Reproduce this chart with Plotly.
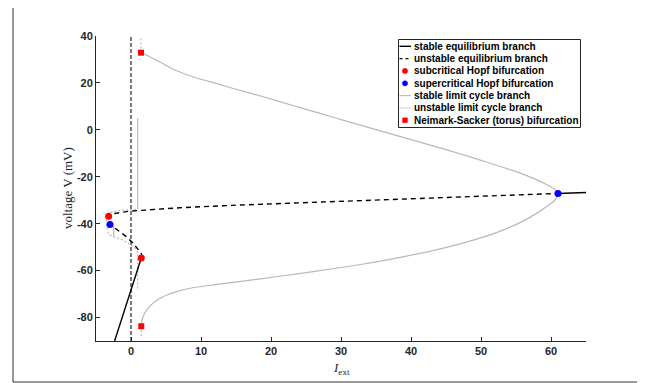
import plotly.graph_objects as go

# ---------------- data (I_ext, V) ----------------
# stable equilibrium branch (two pieces)
stab_eq_low_I = [-2.34, -1.0, 0.0, 0.51, 1.0, 1.47]
stab_eq_low_V = [-90.0, -77.5, -68.5, -64.1, -59.2, -54.6]
stab_eq_high_I = [61.0, 63.0, 65.0]
stab_eq_high_V = [-27.1, -26.9, -26.7]

# unstable equilibrium branch
unst_eq_I = [1.47, 1.5, 1.1, 0.14, -0.81, -2.0, -3.0, -3.4, -3.2, -2.24, -0.34, 2.04, 4.9, 7.0, 15.0, 25.0, 35.0, 45.0, 55.0, 61.0]
unst_eq_V = [-54.6, -53.0, -51.3, -47.8, -45.2, -42.5, -40.3, -38.5, -36.8, -35.6, -34.7, -34.2, -33.5, -33.2, -32.1, -31.0, -29.9, -28.8, -27.8, -27.1]

# Hopf points
sub_hopf_I = [-3.2, 1.47]
sub_hopf_V = [-36.8, -54.6]
sup_hopf_I = [-3.0, 61.0]
sup_hopf_V = [-40.3, -27.1]

# stable limit cycle branch: large loop (max V then min V)
lc_big_I = [1.43, 2.5, 3.7, 4.9, 6.2, 7.6, 9.5, 12.0, 15.0, 19.0, 23.0, 27.0, 31.0, 35.0, 39.0, 43.0,
            47.0, 51.0, 54.5, 57.5, 59.5, 60.6, 61.0,
            60.7, 59.5, 57.0, 53.5, 49.5, 44.5, 39.0, 33.0, 27.0, 21.0, 16.0, 12.0, 9.0, 7.0, 5.3, 4.0, 3.0, 2.3, 1.8, 1.55, 1.47]
lc_big_V = [33.0, 31.5, 29.6, 27.6, 25.6, 23.9, 22.0, 19.9, 17.3, 14.0, 10.5, 7.0, 3.5, 0.1, -3.3, -6.7,
            -10.2, -13.9, -17.3, -20.7, -23.5, -25.5, -27.1,
            -29.4, -32.5, -37.3, -42.3, -46.5, -50.5, -54.0, -57.3, -60.0, -62.5, -64.5, -66.0, -67.2, -68.5, -70.2, -72.1, -74.3, -76.6, -79.0, -81.5, -83.7]
# stable limit cycle: small family near the left knee
lc_small_I = [-3.0, -2.5, -2.5]
lc_small_V = [-40.3, -41.4, -45.6]
lc_top_I = [0.95, 0.95]
lc_top_V = [-33.8, 4.9]

# unstable limit cycle branch
ulc_max_I = [-3.2, -2.8, -1.5, 0.0, 0.95]
ulc_max_V = [-36.8, -35.0, -34.3, -34.0, -33.8]
ulc_min_I = [-3.2, -3.5, -3.4, -3.2, -2.6, -1.5, -0.3, 0.6, 0.95, 0.95]
ulc_min_V = [-36.8, -39.0, -42.0, -44.5, -45.5, -46.5, -48.5, -50.5, -52.0, -68.0]
ulc_ns_up_I = [1.43, 1.43]
ulc_ns_up_V = [33.0, 39.0]
ulc_ns_dn_I = [1.47, 1.47]
ulc_ns_dn_V = [-83.7, -88.0]

# Neimark-Sacker (torus) points
ns_I = [1.43, 1.47]
ns_V = [32.9, -83.7]

# axes
x_ticks = [0, 10, 20, 30, 40, 50, 60]
x_tick_labels = ["0", "10", "20", "30", "40", "50", "60"]
y_ticks = [-80, -60, -40, -20, 0, 20, 40]
y_tick_labels = ["-80", "-60", "-40", "-20", "0", "20", "40"]
x_range = [-5, 65]
y_range = [-90, 40]

legend_labels = ["stable equilibrium branch", "unstable equilibrium branch",
                 "subcritical Hopf bifurcation", "supercritical Hopf bifurcation",
                 "stable limit cycle branch", "unstable limit cycle branch",
                 "Neimark-Sacker (torus) bifurcation"]

BLACK = "#000000"
GRAY = "#b8b8b8"
RED = "#ff0000"
BLUE = "#0000ff"
AXC = "#262626"

# page has an 8px body margin: the figure is sized and placed to compensate
OFF = 8
W, H = 645 - OFF, 383 - OFF
PX0, PX1, PY0, PY1 = 96, 586, 36, 341          # plot area in window pixels
ML, MR, MT, MB = PX0 - OFF, W - (PX1 - OFF), PY0 - OFF, H - (PY1 - OFF)
PW, PH = PX1 - PX0, PY1 - PY0


def px2x(px):
    return (px - PX0) / PW


def py2y(py):
    return 1 - (py - PY0) / PH


def join(*segs):
    xs, ys = [], []
    for i, (sx, sy) in enumerate(segs):
        if i:
            xs.append(None)
            ys.append(None)
        xs += list(sx)
        ys += list(sy)
    return xs, ys


fig = go.Figure()

# vertical dashed reference line at I = 0
fig.add_trace(go.Scatter(x=[0, 0], y=y_range, mode="lines", hoverinfo="skip",
                         line=dict(color="#5a5a5a", width=1.6, dash="4px,2px")))

sx, sy = join((lc_big_I, lc_big_V), (lc_small_I, lc_small_V), (lc_top_I, lc_top_V))
fig.add_trace(go.Scatter(x=sx, y=sy, mode="lines", line=dict(color=GRAY, width=1.2, shape="spline", smoothing=0.6)))
sx, sy = join((ulc_max_I, ulc_max_V), (ulc_min_I, ulc_min_V), (ulc_ns_up_I, ulc_ns_up_V), (ulc_ns_dn_I, ulc_ns_dn_V))
fig.add_trace(go.Scatter(x=sx, y=sy, mode="lines", line=dict(color=GRAY, width=1.2, dash="2px,2px")))

sx, sy = join((stab_eq_low_I, stab_eq_low_V), (stab_eq_high_I, stab_eq_high_V))
fig.add_trace(go.Scatter(x=sx, y=sy, mode="lines", line=dict(color=BLACK, width=1.4)))
fig.add_trace(go.Scatter(x=unst_eq_I, y=unst_eq_V, mode="lines",
                         line=dict(color=BLACK, width=1.4, dash="5px,4px")))

fig.add_trace(go.Scatter(x=ns_I, y=ns_V, mode="markers", marker=dict(color=RED, size=6, symbol="square")))
fig.add_trace(go.Scatter(x=sub_hopf_I, y=sub_hopf_V, mode="markers", marker=dict(color=RED, size=7)))
fig.add_trace(go.Scatter(x=sup_hopf_I, y=sup_hopf_V, mode="markers", marker=dict(color=BLUE, size=7)))

# ---------------- legend (drawn manually, MATLAB-style compact box) ----------------
shapes = []
annotations = []
box = (398.5, 39.5, 580.5, 127.5)
shapes.append(dict(type="rect", xref="paper", yref="paper", x0=px2x(box[0]), x1=px2x(box[2]),
                   y0=py2y(box[3]), y1=py2y(box[1]), line=dict(color=AXC, width=1), fillcolor="white",
                   layer="above"))
row0, dy = 46.3, 12.33
samples = [("line", BLACK, "solid"), ("line", BLACK, "3px,3px"), ("circle", RED, None), ("circle", BLUE, None),
           ("line", GRAY, "solid"), ("line", GRAY, "2px,1px"), ("square", RED, None)]
for k, (lab, (kind, col, dash)) in enumerate(zip(legend_labels, samples)):
    yc = row0 + k * dy
    if kind == "line":
        shapes.append(dict(type="line", xref="paper", yref="paper", x0=px2x(399.5), x1=px2x(411),
                           y0=py2y(yc), y1=py2y(yc), line=dict(color=col, width=1.4 if col == BLACK else 1.1, dash=dash),
                           layer="above"))
    elif kind == "circle":
        r = 2.6
        shapes.append(dict(type="circle", xref="paper", yref="paper", x0=px2x(405 - r), x1=px2x(405 + r),
                           y0=py2y(yc + r), y1=py2y(yc - r), line=dict(color=col, width=0.5), fillcolor=col,
                           layer="above"))
    else:
        r = 2.4
        shapes.append(dict(type="rect", xref="paper", yref="paper", x0=px2x(405 - r), x1=px2x(405 + r),
                           y0=py2y(yc + r), y1=py2y(yc - r), line=dict(color=col, width=0.5), fillcolor=col,
                           layer="above"))
    annotations.append(dict(text=lab, xref="paper", yref="paper", x=px2x(412), y=py2y(yc), xanchor="left",
                            yanchor="middle", showarrow=False,
                            font=dict(family="Liberation Sans", size=10, color="#000000", weight="bold")))

# axis titles
annotations.append(dict(text="<i>I</i><sub>ext</sub>", xref="paper", yref="paper", x=px2x(341), y=py2y(368),
                        xanchor="center", yanchor="middle", showarrow=False,
                        font=dict(family="Liberation Serif", size=13, color=AXC)))
annotations.append(dict(text="voltage V (mV)", xref="paper", yref="paper", x=px2x(67), y=py2y(188),
                        xanchor="center", yanchor="middle", showarrow=False, textangle=-90,
                        font=dict(family="Liberation Serif", size=13, color=AXC)))

# figure border
shapes.append(dict(type="rect", xref="paper", yref="paper", x0=px2x(13), x1=px2x(643), y0=py2y(382), y1=py2y(7),
                   line=dict(color="#333333", width=1), fillcolor="rgba(0,0,0,0)", layer="below"))

tickfont = dict(family="Liberation Sans", size=11, color=AXC, weight="bold")
fig.update_layout(
    width=W, height=H, autosize=False, showlegend=False,
    margin=dict(l=ML, r=MR, t=MT, b=MB),
    plot_bgcolor="white", paper_bgcolor="white",
    xaxis=dict(range=x_range, tickvals=x_ticks, ticktext=x_tick_labels, ticks="inside", ticklen=4, tickcolor=AXC,
               showline=True, linecolor=AXC, linewidth=1, showgrid=False, zeroline=False,
               tickfont=tickfont),
    yaxis=dict(range=y_range, tickvals=y_ticks, ticktext=y_tick_labels, ticks="inside", ticklen=4, tickcolor=AXC,
               showline=True, linecolor=AXC, linewidth=1, showgrid=False, zeroline=False,
               tickfont=tickfont),
    shapes=shapes,
    annotations=annotations,
)

fig.write_html("out.html")
